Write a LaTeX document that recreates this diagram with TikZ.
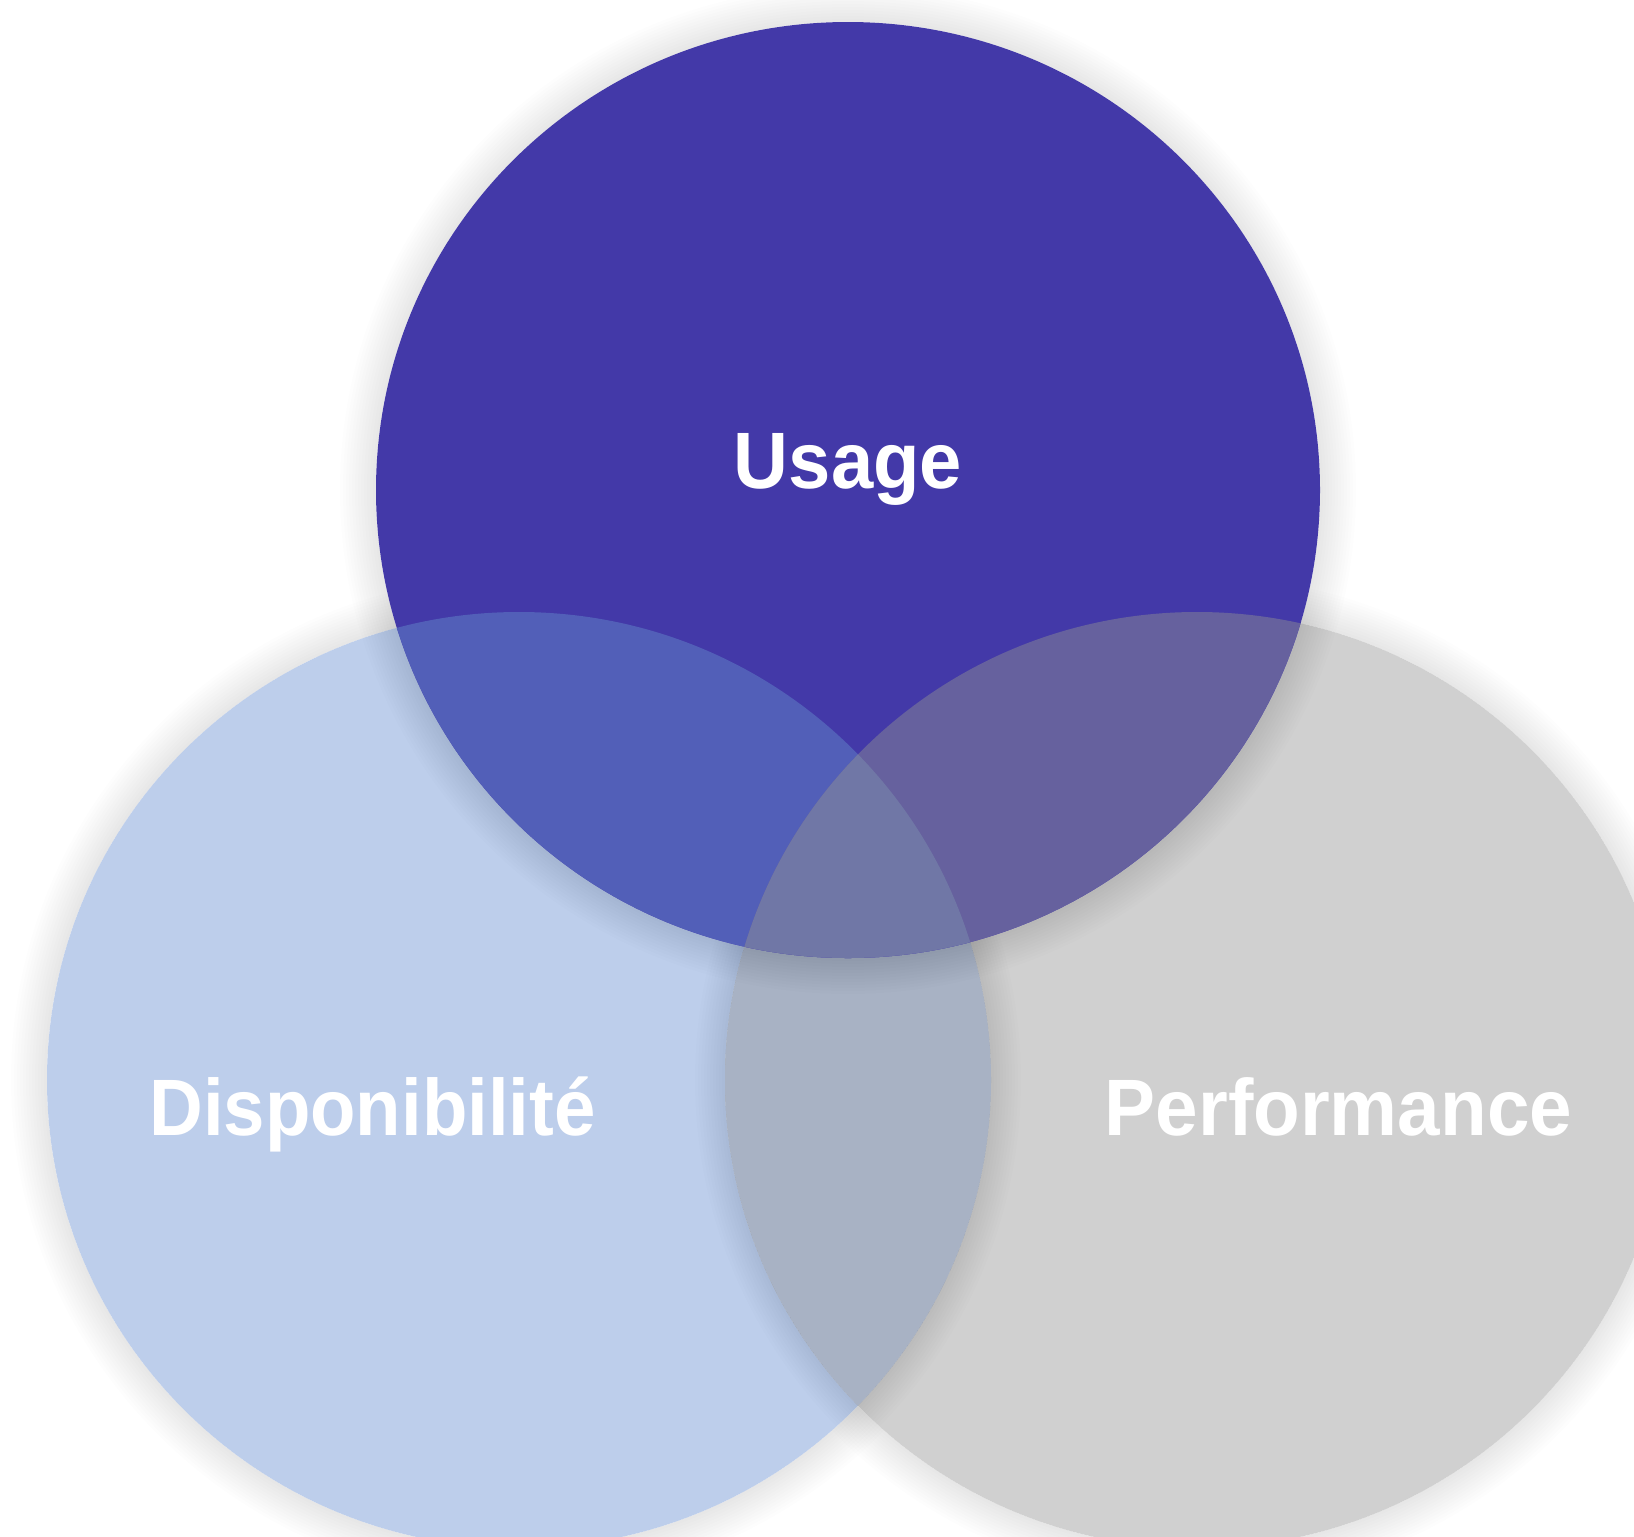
\documentclass[tikz,border=0pt]{standalone}
\usepackage{fontspec}
\setmainfont{Liberation Sans}
\definecolor{cTop}{RGB}{67,57,168}
\definecolor{cLeft}{RGB}{189,206,235}
\definecolor{cRight}{RGB}{208,208,208}
\definecolor{cTL}{RGB}{82,95,184}
\definecolor{cTR}{RGB}{102,97,158}
\definecolor{cLR}{RGB}{168,178,196}
\definecolor{cTLR}{RGB}{112,119,166}
\def\ra{236pt}
\def\rb{234pt}
\tikzset{
  lbl/.style={text=white, font=\fontsize{40}{48}\selectfont\bfseries, anchor=base, inner sep=0pt},
  shadowring/.style={fill=black, opacity=0.009},
  softring/.style={fill=black, opacity=0.006}
}
\begin{document}
\begin{tikzpicture}[x=0.5pt,y=-0.5pt]
\useasboundingbox (0,0) rectangle (1634,1537);
\clip (0,0) rectangle (1634,1537);
\fill[white] (0,0) rectangle (1634,1537);
\coordinate (T) at (848,490);
\coordinate (L) at (519,1080);
\coordinate (R) at (1197,1080);
% shadows of the lower circles on white
\begin{scope}[even odd rule]
  \clip (-100,-100) rectangle (1800,1700) (L) ellipse [x radius=\ra, y radius=\rb];
  \foreach \i in {1,...,12} {
    \fill[shadowring, shift={(0,5)}] (L) ellipse [x radius=\ra+\i*1.5pt, y radius=\rb+\i*1.5pt];
  }
\end{scope}
\begin{scope}[even odd rule]
  \clip (-100,-100) rectangle (1800,1700) (R) ellipse [x radius=\ra, y radius=\rb];
  \foreach \i in {1,...,12} {
    \fill[shadowring, shift={(0,5)}] (R) ellipse [x radius=\ra+\i*1.5pt, y radius=\rb+\i*1.5pt];
  }
\end{scope}
% lower circles
\fill[cLeft] (L) ellipse [x radius=\ra, y radius=\rb];
\fill[cRight] (R) ellipse [x radius=\ra, y radius=\rb];
\begin{scope}
  \clip (L) ellipse [x radius=\ra, y radius=\rb];
  \fill[cLR] (R) ellipse [x radius=\ra, y radius=\rb];
\end{scope}
% shadow of left circle on right-only part
\begin{scope}
  \clip (R) ellipse [x radius=\ra, y radius=\rb];
  \begin{scope}[even odd rule]
  \clip (-100,-100) rectangle (1800,1700) (L) ellipse [x radius=\ra, y radius=\rb];
  \foreach \i in {1,...,10} {
    \fill[softring, shift={(0,4)}] (L) ellipse [x radius=\ra+\i*1.5pt, y radius=\rb+\i*1.5pt];
  }
  \end{scope}
\end{scope}
% shadow of right circle on left-only part
\begin{scope}
  \clip (L) ellipse [x radius=\ra, y radius=\rb];
  \begin{scope}[even odd rule]
  \clip (-100,-100) rectangle (1800,1700) (R) ellipse [x radius=\ra, y radius=\rb];
  \foreach \i in {1,...,10} {
    \fill[softring, shift={(0,4)}] (R) ellipse [x radius=\ra+\i*1.5pt, y radius=\rb+\i*1.5pt];
  }
  \end{scope}
\end{scope}
% shadow of top circle
\begin{scope}[even odd rule]
  \clip (-100,-100) rectangle (1800,1700) (T) ellipse [x radius=\ra, y radius=\rb];
  \foreach \i in {1,...,12} {
    \fill[shadowring, shift={(0,5)}] (T) ellipse [x radius=\ra+\i*1.5pt, y radius=\rb+\i*1.5pt];
  }
\end{scope}
% top circle and its overlaps
\fill[cTop] (T) ellipse [x radius=\ra, y radius=\rb];
\begin{scope}
  \clip (T) ellipse [x radius=\ra, y radius=\rb];
  \fill[cTL] (L) ellipse [x radius=\ra, y radius=\rb];
  \fill[cTR] (R) ellipse [x radius=\ra, y radius=\rb];
  \clip (L) ellipse [x radius=\ra, y radius=\rb];
  \fill[cTLR] (R) ellipse [x radius=\ra, y radius=\rb];
\end{scope}
% labels
\node[lbl] (usage) at (848,488) {\scalebox{0.95}[1]{Usage}};
\node[lbl] (dispo) at (372.5,1135) {\scalebox{0.93}[1]{Disponibilité}};
\node[lbl] (perf) at (1338.5,1135) {\scalebox{0.955}[1]{Performance}};
\end{tikzpicture}
\end{document}
